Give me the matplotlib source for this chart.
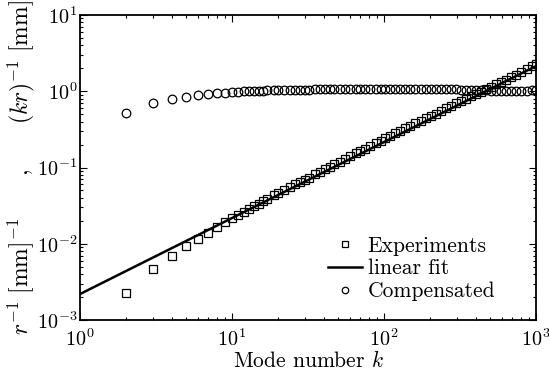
import matplotlib
matplotlib.use("Agg")
import matplotlib.pyplot as plt

plt.rcParams["mathtext.fontset"] = "cm"
plt.rcParams["font.family"] = "serif"
plt.rcParams["font.serif"] = ["cmr10"]
plt.rcParams["axes.formatter.use_mathtext"] = True

# mode numbers
k = [2, 3, 4, 5, 6, 7, 8, 9, 10, 11, 12, 13, 14, 15, 16, 17, 19, 20, 22, 24,
     26, 28, 30, 32, 35, 38, 41, 44, 47, 51, 55, 60, 65, 70, 75, 81, 88, 95,
     102, 110, 119, 128, 138, 149, 161, 174, 188, 203, 219, 236, 255, 275,
     297, 321, 346, 374, 403, 435, 470, 507, 548, 591, 638, 689, 743, 802,
     866, 935, 1000]

# measured inverse radius r^-1 [1/mm]
r_inv = [0.00229, 0.00469, 0.00695, 0.00924, 0.01162, 0.01401, 0.01654,
         0.01901, 0.02156, 0.02396, 0.0264, 0.02889, 0.03111, 0.03366,
         0.0359, 0.03852, 0.04305, 0.04576, 0.05034, 0.05491, 0.06006,
         0.06468, 0.0693, 0.07392, 0.08162, 0.08862, 0.09561, 0.1026,
         0.1096, 0.1189, 0.1283, 0.1412, 0.1530, 0.1648, 0.1766, 0.1907,
         0.2072, 0.2236, 0.2401, 0.2589, 0.2801, 0.3013, 0.3249, 0.3507,
         0.3790, 0.4096, 0.4426, 0.4779, 0.5107, 0.5504, 0.5947, 0.6413,
         0.6926, 0.7415, 0.7993, 0.8557, 0.9221, 0.9857, 1.065, 1.138,
         1.230, 1.313, 1.418, 1.531, 1.651, 1.782, 1.943, 2.119, 2.31]

# compensated values (kr)^-1
comp = [0.52, 0.71, 0.79, 0.84, 0.88, 0.91, 0.94, 0.96, 0.98, 0.99, 1.00,
        1.01, 1.01, 1.02, 1.02, 1.03, 1.03, 1.04, 1.04, 1.04, 1.05, 1.05,
        1.05, 1.05, 1.06, 1.06, 1.06, 1.06, 1.06, 1.06, 1.06, 1.07, 1.07,
        1.07, 1.07, 1.07, 1.07, 1.07, 1.07, 1.07, 1.07, 1.07, 1.07, 1.07,
        1.07, 1.07, 1.07, 1.07, 1.06, 1.06, 1.06, 1.06, 1.06, 1.05, 1.05,
        1.04, 1.04, 1.03, 1.03, 1.02, 1.02, 1.01, 1.01, 1.01, 1.01, 1.01,
        1.02, 1.03, 1.05]

# linear fit end points
fit_k = [1, 1000]
fit_y = [0.00219, 2.14]

fig = plt.figure(figsize=(5.49, 3.83), dpi=100)
ax = fig.add_axes([80/549, 63/383, 456/549, 305/383])

ax.loglog(k, r_inv, "s", ms=5.2, mfc="none", mec="k", mew=0.9, label="Experiments")
ax.loglog(fit_k, fit_y, "-", color="k", lw=1.8, label="linear fit")
ax.loglog(k, comp, "o", ms=6.2, mfc="none", mec="k", mew=0.9, label="Compensated")

ax.set_xlim(1, 1000)
ax.set_ylim(1e-3, 10)

for s in ax.spines.values():
    s.set_linewidth(1.3)
ax.tick_params(which="both", direction="in", top=True, right=True,
               labelsize=14.5, width=0.8)
ax.tick_params(which="major", length=5)
ax.tick_params(which="minor", length=2.5)
ax.tick_params(axis="x", pad=6)
ax.tick_params(axis="y", pad=2)

ax.set_xlabel("Mode number $k$", fontsize=15.5, labelpad=0)
ax.set_ylabel(r"$r^{-1}\ [\mathrm{mm}]^{-1}\qquad,\qquad(kr)^{-1}\ [\mathrm{mm}]$",
              fontsize=17, labelpad=0)

ax.legend(loc="upper left", bbox_to_anchor=(0.52, 0.31), frameon=False,
          fontsize=15.5, handlelength=1.6, handletextpad=0.25, labelspacing=0.15,
          borderpad=0, markerscale=0.75)

fig.savefig("out.png", dpi=100)
